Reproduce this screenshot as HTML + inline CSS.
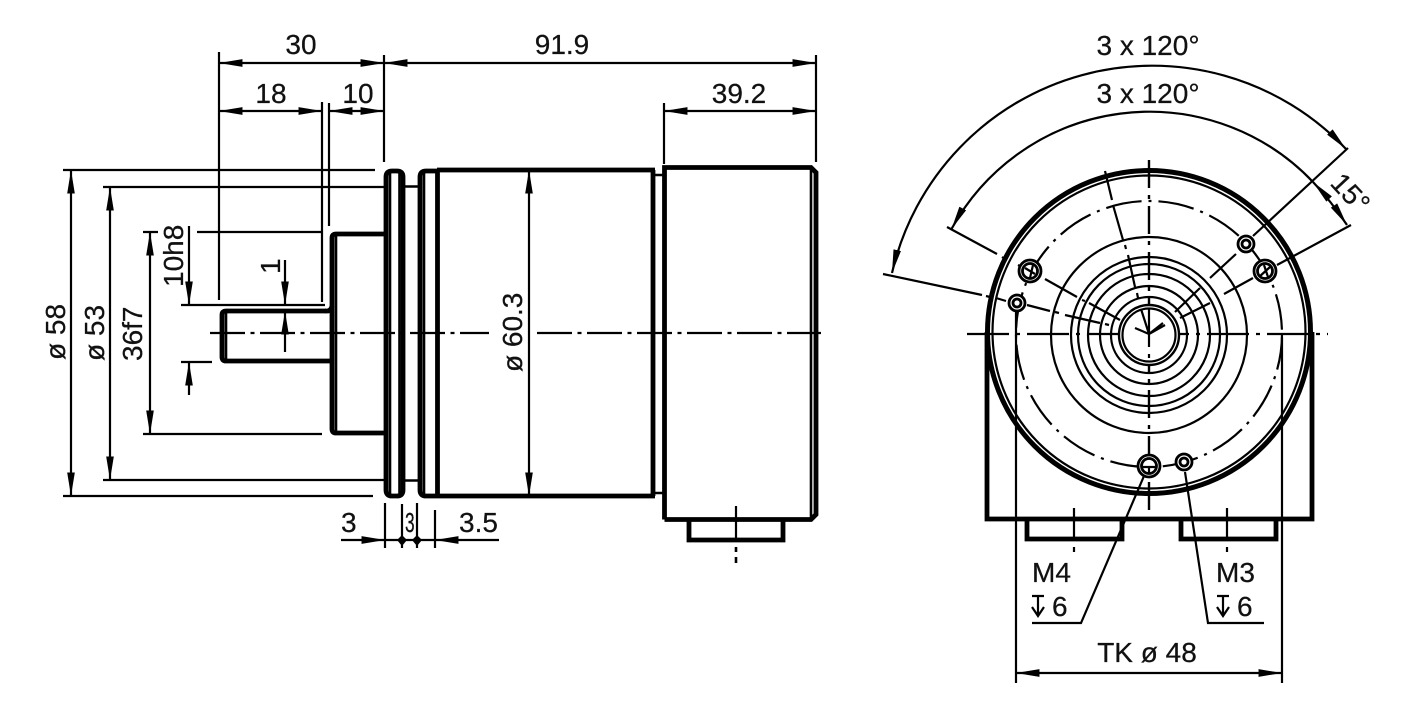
<!DOCTYPE html>
<html><head><meta charset="utf-8"><style>
html,body{margin:0;padding:0;background:#fff}
svg{display:block}
text{font-family:"Liberation Sans",sans-serif;font-size:28px;fill:#111;stroke:#111;stroke-width:.25}
.t{stroke:#000;stroke-width:2.2;fill:none}
.m{stroke:#000;stroke-width:2.6;fill:none}
.k{stroke:#000;stroke-width:4.8;fill:none}
.a{marker-start:url(#ar);marker-end:url(#ar)}
.e{marker-end:url(#ar)}
</style></head><body>
<svg width="1417" height="709" viewBox="0 0 1417 709" xmlns="http://www.w3.org/2000/svg">
<defs>
<marker id="ar" markerUnits="userSpaceOnUse" markerWidth="24" markerHeight="10" viewBox="0 0 22 8" refX="21.5" refY="4" orient="auto-start-reverse"><path d="M0 .5L21.5 4L0 7.5Z" fill="#000"/></marker>
</defs>

<!-- SIDE VIEW outline -->
<g class="k">
<path d="M326 311H226Q222 311 222 315V357Q222 361 226 361H332"/>
<path d="M325 311H327Q331 311 332 306"/>
<path d="M332 429V238Q332 234 336 234H386M332 429Q332 433 336 433H386"/>
<path d="M386 177Q386 171 392 171H397Q403 171 403 177V490Q403 496 397 496H392Q386 496 386 490Z"/>
<path d="M420 490V177Q420 171 426 171H437M420 490Q420 496 426 496H437"/>
<path d="M437.500 170V496M437 170H655M437 496H655"/>
<path d="M653 170V496"/>
<path d="M664.500 519.500V167.500H811L816 172.500V514.500L811 519.500H664.500"/>
<path d="M689 519V540H783V519"/>
</g>
<g class="m">
<path d="M403 186.500H420M403 480.500H420M653 175H664M653 493H664"/>
<path d="M226 311V361M336 236V431M390 173V494M399.500 173V494M424 173V494M811 167V519"/>
</g>

<!-- SIDE VIEW dimensions -->
<g class="t">
<path d="M219 52V300M384 55V162M816 55V162M664 103V164M322 102V302M329 103V226"/>
<path d="M63 170H375M103 187H388M143 232H158M197 232H322M181 305H325M181 362H212M143 434H322M103 480H385M63 496H373"/>
<path class="t a" d="M219 63H384"/>
<path class="t a" d="M384 63H816"/>
<path class="t a" d="M219 111H322"/>
<path class="t a" d="M329 111H384"/>
<path class="t a" d="M664 111H816"/>
<path class="t a" d="M71 170V496"/>
<path class="t a" d="M110 187V480"/>
<path class="t a" d="M150 232V434"/>
<path class="t a" d="M529 170V496"/>
<path class="t e" d="M189 226V305"/>
<path class="t e" d="M189 395V362"/>
<path class="t e" d="M285 260V305"/>
<path class="t e" d="M285 352V311"/>
<path class="t e" d="M341 540H385"/>
<path class="t e" d="M499 540H435"/>
<path d="M385 503V548M402 504V548M417 503V548M435 510V548M385 540H435"/>
<path d="M210 333H489" stroke-dasharray="35 5.500 4 5.500"/>
<path d="M537 333H821" stroke-dasharray="35 5.500 4 5.500"/>
<path d="M736 506V540"/>
<path d="M736 547V552M736 557V563" stroke-width="2.6"/>
</g>
<path d="M402 535L407 540L402 546L397 540ZM417 535L422 540L417 546L412 540Z" fill="#000"/>

<text x="301" y="54" text-anchor="middle">30</text>
<text x="271" y="103" text-anchor="middle">18</text>
<text x="358" y="103" text-anchor="middle">10</text>
<text x="562" y="54" text-anchor="middle">91.9</text>
<text x="739" y="103" text-anchor="middle">39.2</text>
<text x="341" y="532">3</text>
<text x="459" y="532">3.5</text>
<text transform="translate(405 532) scale(.62 1)">3</text>
<text transform="translate(65 360) rotate(-90)">ø 58</text>
<text transform="translate(104 361) rotate(-90)">ø 53</text>
<text transform="translate(142 361) rotate(-90)">36f7</text>
<text transform="translate(183 287) rotate(-90)">10h8</text>
<text transform="translate(280 274) rotate(-90)">1</text>
<text transform="translate(522 372) rotate(-90)">ø 60.3</text>

<!-- FRONT VIEW -->
<g class="k">
<path d="M987 332V519H1312V332"/>
<path d="M1027 519V539H1122V519M1181 519V539H1276V519"/>
</g>
<circle cx="1149" cy="332" r="161.500" fill="#fff" stroke="#000" stroke-width="5"/>
<circle cx="1149" cy="332" r="156.500" class="t"/>

<g class="t">
<circle cx="1149" cy="335" r="98"/>
<circle cx="1149" cy="335" r="78"/>
<circle cx="1149" cy="335" r="71"/>
<circle cx="1149" cy="335" r="61"/>
<circle cx="1149" cy="335" r="49"/>
<circle cx="1149" cy="335" r="38"/>
<circle cx="1149" cy="334" r="133" stroke-dasharray="36 7 3 7"/>
<path d="M1016 312V683M1282 337V683"/>
<path d="M967 334H1328" stroke-dasharray="42 7 4 7"/>
<path d="M1149 160V525" stroke-dasharray="28 7 4 7" stroke-width="2.4"/>
<path d="M1074 508V540M1227 508V540M1074 547V552M1227 547V552"/>
<!-- extension lines -->
<path d="M1348 148L1253 236M1236 254L1210 278M1200 288L1175 312"/>
<path d="M1351 225L1277 265M1253 278L1224 294M1210 303L1180 318"/>
<path d="M947 227L997 254M1002 257L1005 259M1018 265L1030 271M1045 279L1077 297M1082 300L1085 301M1089 303L1120 320"/>
<path d="M883 274L982 295M986 296L990 297M996 298L1006 301M1027 305L1050 311M1055 312L1059 313M1065 315L1100 323M1105 324L1109 325"/>
<path d="M1105 171L1112 200M1113 205L1123 240M1125 245L1126 249M1128 255L1135 287M1137 293L1138 298"/>
<!-- arcs -->
<path class="t a" d="M892 273A267 267 0 0 1 1346 149"/>
<path class="t" style="marker-start:url(#ar)" d="M951.500 229A225.600 225.600 0 0 1 1313 182"/>
<path class="t a" d="M1313 182Q1331 201 1347 225"/>
<!-- leaders -->
<path d="M1144 476L1081 623H1032M1185 472L1208 623H1264"/>
<path class="t a" d="M1016 673H1282"/>
<path d="M1032 596H1044M1038 596V616M1032 607L1038 616L1044 607M1217 596H1229M1223 596V616M1217 607L1223 616L1229 607"/>
</g>

<circle cx="1149" cy="335" r="30" fill="#fff" stroke="#000" stroke-width="2.4"/>
<circle cx="1149" cy="335" r="26.500" fill="#fff" stroke="#000" stroke-width="2.2"/>
<path class="t" d="M1149 309V347M1149 334L1141 309M1149 334L1163 323M1149 334L1165 325M1149 334L1135 328M1149 354V358"/>

<!-- holes -->
<g fill="#fff" stroke="#000" stroke-width="2.8">
<circle cx="1030" cy="271" r="11"/><circle cx="1030" cy="271" r="7.500"/>
<circle cx="1265" cy="271" r="11"/><circle cx="1265" cy="271" r="7.500"/>
<circle cx="1149" cy="466" r="11"/><circle cx="1149" cy="466" r="7.500"/>
<circle cx="1017" cy="303" r="8"/><circle cx="1017" cy="303" r="4"/>
<circle cx="1246" cy="244" r="8"/><circle cx="1246" cy="244" r="4"/>
<circle cx="1184" cy="462" r="8"/><circle cx="1184" cy="462" r="4"/>
</g>
<path class="t" d="M1025 268L1035 274M1030 278L1033 265M1259 277L1270 267M1264 265L1268 277M1142 467H1156M1149 467V473"/>

<text x="1148" y="55" text-anchor="middle">3 x 120°</text>
<text x="1148" y="103" text-anchor="middle">3 x 120°</text>
<text transform="translate(1329 184) rotate(47)">15°</text>
<text x="1032" y="582">M4</text>
<text x="1216" y="582">M3</text>
<text x="1052" y="616">6</text>
<text x="1237" y="616">6</text>
<text x="1147" y="662" text-anchor="middle">TK ø 48</text>
</svg>
</body></html>
